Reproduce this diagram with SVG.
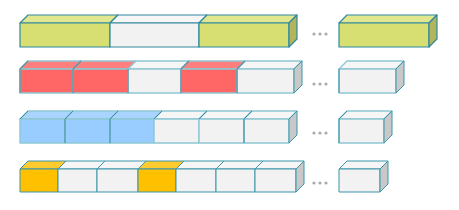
<svg xmlns="http://www.w3.org/2000/svg" width="459" height="210" viewBox="0 0 459 210">
<style>
.d{stroke:#31889f;stroke-width:1.2;stroke-linejoin:round}
.l{stroke:#8ec7d4;stroke-width:1.4;stroke-linejoin:round}
.ld{stroke:#3a95ab;stroke-width:1;stroke-linejoin:round}
.v{stroke:#3a8ea5;stroke-width:1;fill:none}
.vg{stroke:#5e8c9c;stroke-width:1.2;fill:none}
.yf{fill:#d7df72}.yt{fill:#e1e78e}.ys{fill:#b1b55b}
.wf{fill:#f2f2f2}.wt{fill:#f6f6f6}.ws{fill:#c8c8c8}
.rf{fill:#ff6666}.rt{fill:#ff7f7f}
.bf{fill:#99ccff}.bt{fill:#a9d4ff}
.of{fill:#ffc000}.ot{fill:#ffcb2e}
.dot{fill:#aaaaaa}
</style>
<g id="row1">
<g id="r1c1"><polygon class="yt d" points="20,23 28,15 118,15 110,23"/><rect class="yf d" x="20" y="23" width="90" height="24"/></g>
<g id="r1c2"><polygon class="wt d" points="110,23 118,15 207,15 199,23"/><rect class="wf d" x="110" y="23" width="89" height="24"/></g>
<g id="r1c3"><polygon class="yt d" points="199,23 207,15 297,15 289,23"/><rect class="yf d" x="199" y="23" width="90" height="24"/><polygon class="ys d" points="289,23 297,15 297,39 289,47"/></g>
<g id="r1dots"><circle class="dot" cx="314" cy="34" r="1.6"/><circle class="dot" cx="320" cy="34" r="1.6"/><circle class="dot" cx="326" cy="34" r="1.6"/></g>
<g id="r1last"><polygon class="yt d" points="339,23 347,15 437,15 429,23"/><rect class="yf d" x="339" y="23" width="90" height="24"/><polygon class="ys d" points="429,23 437,15 437,39 429,47"/></g>
</g>
<g id="row2">
<g id="r2c1"><polygon class="rt l" points="20,69 28,61 81,61 73,69"/><rect class="rf l" x="20" y="69" width="53" height="24"/></g>
<g id="r2c2"><polygon class="rt l" points="73,69 81,61 136,61 128,69"/><rect class="rf l" x="73" y="69" width="55" height="24"/></g>
<g id="r2c3"><polygon class="wt l" points="128,69 136,61 189,61 181,69"/><rect class="wf l" x="128" y="69" width="53" height="24"/></g>
<g id="r2c4"><polygon class="rt l" points="181,69 189,61 245,61 237,69"/><rect class="rf l" x="181" y="69" width="56" height="24"/></g>
<g id="r2c5"><polygon class="wt l" points="237,69 245,61 302,61 294,69"/><rect class="wf l" x="237" y="69" width="57" height="24"/><polygon class="ws ld" points="294,69 302,61 302,85 294,93"/></g>
<path class="vg" d="M20,69V93M73,69V93M128,69V93M181,69V93M237,69V93M28,61L20,69M81,61L73,69M189,61L181,69M245,61L237,69"/>
<g id="r2dots"><circle class="dot" cx="314" cy="84" r="1.6"/><circle class="dot" cx="320" cy="84" r="1.6"/><circle class="dot" cx="326" cy="84" r="1.6"/></g>
<g id="r2last"><polygon class="wt l" points="339,69 347,61 404,61 396,69"/><rect class="wf l" x="339" y="69" width="57" height="24"/><polygon class="ws ld" points="396,69 404,61 404,85 396,93"/><path class="v" d="M339,69V93"/></g>
</g>
<g id="row3">
<g id="r3c1"><polygon class="bt l" points="20,119 28,111 73,111 65,119"/><rect class="bf l" x="20" y="119" width="45" height="24"/></g>
<g id="r3c2"><polygon class="bt l" points="65,119 73,111 118,111 110,119"/><rect class="bf l" x="65" y="119" width="45" height="24"/></g>
<g id="r3c3"><polygon class="bt l" points="110,119 118,111 162,111 154,119"/><rect class="bf l" x="110" y="119" width="44" height="24"/></g>
<g id="r3c4"><polygon class="wt l" points="154,119 162,111 207,111 199,119"/><rect class="wf l" x="154" y="119" width="45" height="24"/></g>
<g id="r3c5"><polygon class="wt l" points="199,119 207,111 252,111 244,119"/><rect class="wf l" x="199" y="119" width="45" height="24"/></g>
<g id="r3c6"><polygon class="wt l" points="244,119 252,111 297,111 289,119"/><rect class="wf l" x="244" y="119" width="45" height="24"/><polygon class="ws ld" points="289,119 297,111 297,135 289,143"/></g>
<path class="v" d="M65,119V143M110,119V143M244,119V143M28,111L20,119M73,111L65,119M118,111L110,119M162,111L154,119M207,111L199,119M252,111L244,119"/>
<g id="r3dots"><circle class="dot" cx="314" cy="133" r="1.6"/><circle class="dot" cx="320" cy="133" r="1.6"/><circle class="dot" cx="326" cy="133" r="1.6"/></g>
<g id="r3last"><polygon class="wt l" points="339,119 347,111 392,111 384,119"/><rect class="wf l" x="339" y="119" width="45" height="24"/><polygon class="ws ld" points="384,119 392,111 392,135 384,143"/><path class="v" d="M339,119V143M347,111L339,119"/></g>
</g>
<g id="row4">
<g id="r4c1"><polygon class="ot ld" points="20,169 28,161 66,161 58,169"/><rect class="of ld" x="20" y="169" width="38" height="23"/></g>
<g id="r4c2"><polygon class="wt ld" points="58,169 66,161 105,161 97,169"/><rect class="wf ld" x="58" y="169" width="39" height="23"/></g>
<g id="r4c3"><polygon class="wt ld" points="97,169 105,161 146,161 138,169"/><rect class="wf ld" x="97" y="169" width="41" height="23"/></g>
<g id="r4c4"><polygon class="ot ld" points="138,169 146,161 184,161 176,169"/><rect class="of ld" x="138" y="169" width="38" height="23"/></g>
<g id="r4c5"><polygon class="wt ld" points="176,169 184,161 224,161 216,169"/><rect class="wf ld" x="176" y="169" width="40" height="23"/></g>
<g id="r4c6"><polygon class="wt ld" points="216,169 224,161 263,161 255,169"/><rect class="wf ld" x="216" y="169" width="39" height="23"/></g>
<g id="r4c7"><polygon class="wt ld" points="255,169 263,161 304,161 296,169"/><rect class="wf ld" x="255" y="169" width="41" height="23"/><polygon class="ws ld" points="296,169 304,161 304,184 296,192"/></g>
<g id="r4dots"><circle class="dot" cx="314" cy="183" r="1.6"/><circle class="dot" cx="320" cy="183" r="1.6"/><circle class="dot" cx="326" cy="183" r="1.6"/></g>
<g id="r4last"><polygon class="wt ld" points="339,169 347,161 388,161 380,169"/><rect class="wf ld" x="339" y="169" width="41" height="23"/><polygon class="ws ld" points="380,169 388,161 388,184 380,192"/></g>
</g>
</svg>
